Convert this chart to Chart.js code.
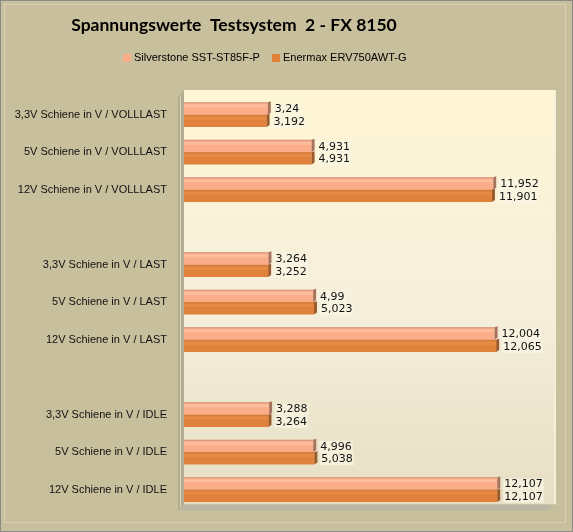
<!DOCTYPE html>
<html>
<head>
<meta charset="utf-8">
<script src="https://cdn.jsdelivr.net/npm/chart.js@4/dist/chart.umd.min.js"></script>
<style>
  html, body { margin: 0; padding: 0; background: #c8bf9c; }
  #wrap { width: 573px; height: 532px; }
</style>
</head>
<body>
<div id="wrap"><canvas id="chart" width="573" height="532"></canvas></div>
<script>
// Beschriftungen (Lücken zwischen den Gruppen = leere Kategorie)
const categories = [
  '3,3V Schiene in V / VOLLLAST',
  '5V Schiene in V / VOLLLAST',
  '12V Schiene in V / VOLLLAST',
  '',
  '3,3V Schiene in V / LAST',
  '5V Schiene in V / LAST',
  '12V Schiene in V / LAST',
  '',
  '3,3V Schiene in V / IDLE',
  '5V Schiene in V / IDLE',
  '12V Schiene in V / IDLE'
];
const silverstone = [3.24, 4.931, 11.952, null, 3.264, 4.99, 12.004, null, 3.288, 4.996, 12.107];
const enermax = [3.192, 4.931, 11.901, null, 3.252, 5.023, 12.065, null, 3.264, 5.038, 12.107];
const seriesNames = ['Silverstone SST-ST85F-P', 'Enermax ERV750AWT-G'];
const chartTitle = 'Spannungswerte  Testsystem  2 - FX 8150';

const fmt = v => String(v).replace('.', ',');

// Excel-artiger Rahmen, Wände, 3D-Kanten, Werte, Titel und Legende
const excelLook = {
  id: 'excelLook',
  beforeDraw(chart) {
    const ctx = chart.ctx;
    const a = chart.chartArea;
    ctx.save();
    ctx.fillStyle = '#c8bf9c';
    ctx.fillRect(0, 0, chart.width, chart.height);
    // äußerer Rahmen
    ctx.strokeStyle = '#8a8a86';
    ctx.lineWidth = 1;
    ctx.strokeRect(0.5, 0.5, chart.width - 1, chart.height - 1);
    ctx.strokeStyle = '#d8d0b0';
    ctx.strokeRect(4.5, 4.5, chart.width - 12, chart.height - 14);
    // Rückwand
    const g = ctx.createLinearGradient(0, a.top - 6, 0, a.bottom);
    g.addColorStop(0, '#fff6d4');
    g.addColorStop(0.5, '#f6efdc');
    g.addColorStop(1, '#e6dfc4');
    ctx.fillStyle = g;
    ctx.fillRect(a.left, a.top - 6, a.right - a.left, a.bottom - a.top + 2);
    ctx.fillStyle = '#f4eedb';
    ctx.fillRect(a.right, a.top - 6, 2, a.bottom - a.top + 2);
    // linke Wand
    ctx.fillStyle = '#b3ac90';
    ctx.beginPath();
    ctx.moveTo(a.left - 6, a.top + 2);
    ctx.lineTo(a.left, a.top - 6);
    ctx.lineTo(a.left, a.bottom - 4);
    ctx.lineTo(a.left - 6, a.bottom + 2);
    ctx.closePath();
    ctx.fill();
    ctx.fillStyle = '#d9d3bd';
    ctx.fillRect(a.left - 4, a.top, 1, a.bottom - a.top);
    // Boden
    ctx.fillStyle = '#bab7a4';
    ctx.beginPath();
    ctx.moveTo(a.left, a.bottom - 4);
    ctx.lineTo(a.right, a.bottom - 4);
    ctx.lineTo(a.right - 6, a.bottom + 2);
    ctx.lineTo(a.left - 6, a.bottom + 2);
    ctx.closePath();
    ctx.fill();
    ctx.restore();
  },
  afterDatasetsDraw(chart) {
    const ctx = chart.ctx;
    const caps = ['#a8735e', '#9a5a2a'];
    const tops = ['#d4957a', '#cf7a38'];
    const hl = ['rgba(255,200,170,0.6)', 'rgba(236,150,80,0.5)'];
    ctx.save();
    chart.data.datasets.forEach((ds, di) => {
      const meta = chart.getDatasetMeta(di);
      meta.data.forEach((bar, i) => {
        if (ds.data[i] == null) return;
        const top = bar.y - bar.height / 2;
        const bot = bar.y + bar.height / 2;
        // Glanzstreifen
        ctx.fillStyle = hl[di];
        ctx.fillRect(bar.base, top + 2, bar.x - bar.base, 3);
        // Oberkante
        ctx.fillStyle = tops[di];
        ctx.fillRect(bar.base, top, bar.x - bar.base, 1);
        // Stirnseite
        ctx.fillStyle = caps[di];
        ctx.beginPath();
        ctx.moveTo(bar.x, top);
        ctx.lineTo(bar.x + 3, top - 1);
        ctx.lineTo(bar.x + 3, bot - 2);
        ctx.lineTo(bar.x, bot);
        ctx.closePath();
        ctx.fill();
        // Wert
        const txt = fmt(ds.data[i]);
        ctx.font = '11px "DejaVu Sans"';
        const w = ctx.measureText(txt).width;
        const tx = bar.x + 7;
        const ty = bar.y + 1;
        ctx.fillStyle = 'rgba(250,246,228,0.7)';
        ctx.fillRect(tx - 1, ty - 6, w + 2, 12);
        ctx.fillStyle = '#111';
        ctx.textBaseline = 'middle';
        ctx.textAlign = 'left';
        ctx.fillText(txt, tx, ty);
      });
    });
    ctx.restore();
  },
  afterDraw(chart) {
    const ctx = chart.ctx;
    ctx.save();
    ctx.fillStyle = '#000';
    ctx.textBaseline = 'middle';
    ctx.textAlign = 'center';
    ctx.font = 'bold 17.5px Lato';
    ctx.fillText(chartTitle, 234, 25);
    // Legende
    ctx.font = '11px "Liberation Sans"';
    ctx.textAlign = 'left';
    const xs = [123, 272];
    chart.data.datasets.forEach((ds, di) => {
      ctx.fillStyle = ds.backgroundColor;
      ctx.fillRect(xs[di], 54, 8, 8);
      ctx.fillStyle = '#000';
      ctx.fillText(ds.label, xs[di] + 11, 58);
    });
    ctx.restore();
  }
};

new Chart(document.getElementById('chart'), {
  type: 'bar',
  data: {
    labels: categories,
    datasets: [
      { label: seriesNames[0], data: silverstone, backgroundColor: '#fbad8a' },
      { label: seriesNames[1], data: enermax, backgroundColor: '#e0813c' }
    ]
  },
  options: {
    indexAxis: 'y',
    responsive: false,
    animation: false,
    layout: { padding: { top: 96, bottom: 21, right: 19, left: 0 } },
    datasets: { bar: { barPercentage: 1, categoryPercentage: 0.66, borderWidth: 0 } },
    plugins: { legend: { display: false }, title: { display: false }, tooltip: { enabled: false } },
    scales: {
      x: { min: 0, max: 14.3, display: false },
      y: {
        grid: { display: false, drawTicks: false },
        border: { display: false },
        afterFit(scale) { scale.width = 184; },
        ticks: { color: '#111', padding: 17, font: { family: 'Liberation Sans', size: 11 } }
      }
    }
  },
  plugins: [excelLook]
});
</script>
</body>
</html>
